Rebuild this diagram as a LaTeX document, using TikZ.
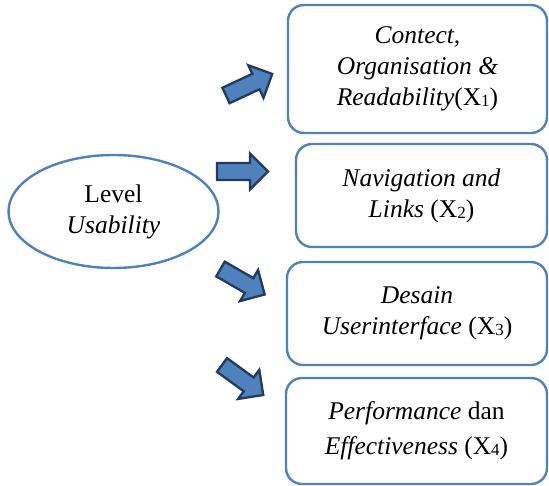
\documentclass[tikz,border=0pt]{standalone}
\usepackage{fontspec}
\setmainfont{Liberation Serif}
\definecolor{edgeblue}{HTML}{4F81BD}
\definecolor{arrowfill}{HTML}{4F81BD}
\definecolor{arrowedge}{HTML}{213A5E}
\newcommand{\xsub}[1]{\raisebox{-1pt}{\fontsize{17}{17}\selectfont #1}}
\tikzset{
  boxstyle/.style={draw=edgeblue, line width=2.4pt, rounded corners=16pt, align=center,
    font=\fontsize{25.5}{31}\selectfont, inner sep=0pt},
  ellstyle/.style={draw=edgeblue, line width=2.4pt, ellipse, align=center,
    font=\fontsize{25.5}{31}\selectfont, inner sep=0pt},
  arrowstyle/.style={fill=arrowfill, draw=arrowedge, line width=2.3pt, line join=miter},
  blockarrow/.pic={\draw[arrowstyle] (0,-8.5) -- (33,-8.5) -- (33,-18) -- (51,0) -- (33,18) -- (33,8.5) -- (0,8.5) -- cycle;}
}
\usetikzlibrary{shapes.geometric}
\begin{document}
\begin{tikzpicture}[x=1pt,y=-1pt]
\useasboundingbox (0,0) rectangle (549,486);
\node[ellstyle, minimum width=210pt, minimum height=113pt] (lu) at (113.5,211.5) {Level\\\textit{Usability}};
\node[boxstyle, minimum width=259pt, minimum height=128pt] (x1) at (417.5,69) {\textit{Contect,}\\\textit{Organisation \&}\\\textit{Readability}(X\xsub{1})};
\node[boxstyle, minimum width=251pt, minimum height=103pt] (x2) at (421.5,195.5) {\textit{Navigation and}\\\textit{Links} (X\xsub{2})};
\node[boxstyle, minimum width=260pt, minimum height=103pt] (x3) at (417,313.5) {\textit{Desain}\\\textit{Userinterface} (X\xsub{3})};
\node[boxstyle, minimum width=261pt, minimum height=106pt, font=\fontsize{25.5}{35}\selectfont] (x4) at (416.5,431) {\textit{Performance} dan\\\textit{Effectiveness} (X\xsub{4})};
\pic[rotate=25] at (226,95.5) {blockarrow};
\pic at (217,171.5) {blockarrow};
\pic[rotate=-30] at (220.5,269) {blockarrow};
\pic[rotate=-36] at (222,365) {blockarrow};
\end{tikzpicture}
\end{document}
